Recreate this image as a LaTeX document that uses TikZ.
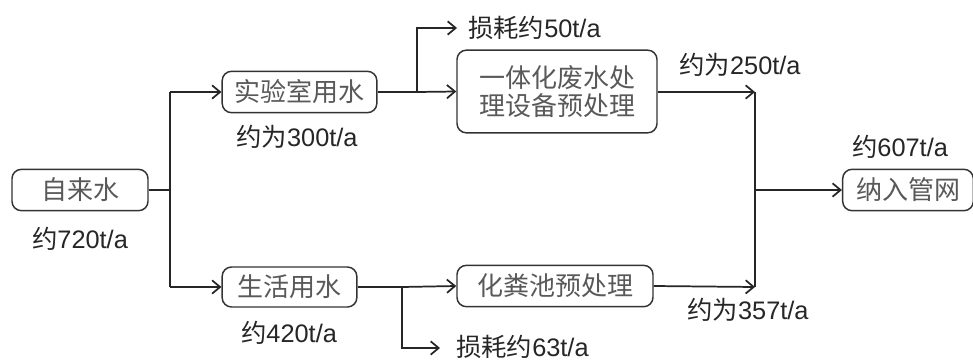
\documentclass[tikz,border=0pt]{standalone}
\usepackage{fontspec}
\setmainfont{Liberation Sans}
\newfontfamily\cjk{Noto Sans CJK SC}
\usetikzlibrary{arrows.meta}
\begin{document}
\begin{tikzpicture}[x=0.75pt,y=-0.75pt,
  box/.style={draw=black!80,line width=1.1pt,rounded corners=7pt,text=black!65,font=\cjk\fontsize{19.5}{24}\selectfont,align=center,inner sep=0pt},
  lbl/.style={text=black!85,font=\fontsize{19}{22}\selectfont,inner sep=0pt},
  conn/.style={draw=black!85,line width=1.3pt},
  arr/.style={conn,-{Straight Barb[length=6pt,width=10pt,line width=1.3pt]}}]
\useasboundingbox[fill=white] (0,0) rectangle (973,360);
% boxes
\node[box,minimum width=102pt,minimum height=31pt] (src) at (80,190) {自来水};
\node[box,minimum width=116pt,minimum height=31pt] (lab) at (299.5,92) {实验室用水};
\node[box,minimum width=101pt,minimum height=30pt] (life) at (289.5,287) {生活用水};
\node[box,minimum width=150pt,minimum height=62pt] (integ) at (557,91.5) {一体化废水处\\[-3pt]理设备预处理};
\node[box,minimum width=147pt,minimum height=31pt] (septic) at (555,286) {化粪池预处理};
\node[box,minimum width=98pt,minimum height=31pt] (out) at (908,190) {纳入管网};
% labels
\node[lbl] (l720) at (80,239) {{\cjk 约}720t/a};
\node[lbl] (l300) at (297,137) {{\cjk 约为}300t/a};
\node[lbl] (l250) at (740,65) {{\cjk 约为}250t/a};
\node[lbl] (l607) at (900,147) {{\cjk 约}607t/a};
\node[lbl] (l420) at (289,333) {{\cjk 约}420t/a};
\node[lbl] (l357) at (748,310) {{\cjk 约为}357t/a};
\node[lbl,anchor=west] (loss50) at (468,28) {{\cjk 损耗约}50t/a};
\node[lbl,anchor=west] (loss63) at (456,347) {{\cjk 损耗约}63t/a};
% junction coordinates
\coordinate (j0) at (170,190);
\coordinate (j0t) at (170,92);
\coordinate (j0b) at (170,287);
\coordinate (j1) at (417,92);
\coordinate (j1t) at (417,28);
\coordinate (j1e) at (457,28);
\coordinate (j2) at (402,287);
\coordinate (j2b) at (402,348);
\coordinate (j2e) at (440,348);
\coordinate (j3t) at (755,92);
\coordinate (j3b) at (755,287);
\coordinate (j3) at (755,190);
% connectors
\draw[conn] (src.east) -- (j0);
\draw[conn] (j0t) -- (j0b);
\draw[arr] (j0t) -- (lab.west);
\draw[arr] (j0b) -- (life.west);
\draw[conn] (lab.east) -- (j1);
\draw[arr] (j1) -- (integ.west);
\draw[arr] (j1) -- (j1t) -- (j1e);
\draw[conn] (life.east) -- (j2);
\draw[arr] (j2) -- (septic.west);
\draw[arr] (j2) -- (j2b) -- (j2e);
\draw[arr] (integ.east |- j3t) -- (j3t);
\draw[arr] (septic.east) -- (j3b);
\draw[conn] (j3t) -- (j3b);
\draw[arr] (j3) -- (out.west);
\end{tikzpicture}
\end{document}
